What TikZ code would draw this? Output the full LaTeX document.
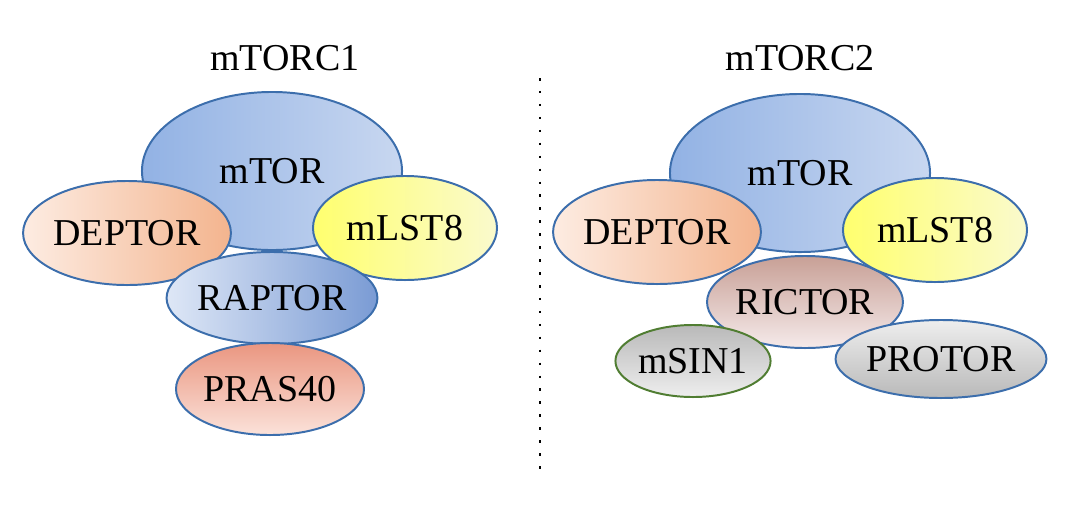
\documentclass[tikz,border=0pt]{standalone}
\usepackage{fontspec}
\setmainfont{Liberation Serif}
\usepackage{tikz}
\usetikzlibrary{shapes.geometric}
\definecolor{MTEdge}{RGB}{60,110,172}
\definecolor{MTLeft}{RGB}{146,178,228}
\definecolor{MTRight}{RGB}{200,215,240}
\definecolor{DPLeft}{RGB}{253,236,226}
\definecolor{DPRight}{RGB}{243,180,142}
\definecolor{LSLeft}{RGB}{255,255,110}
\definecolor{LSRight}{RGB}{250,250,205}
\definecolor{RPLeft}{RGB}{222,231,246}
\definecolor{RPRight}{RGB}{122,155,212}
\definecolor{PRTop}{RGB}{234,150,128}
\definecolor{PRBot}{RGB}{251,226,218}
\definecolor{RCTop}{RGB}{200,160,150}
\definecolor{RCBot}{RGB}{245,234,234}
\definecolor{SNEdge}{RGB}{80,125,50}
\definecolor{GrDark}{RGB}{185,185,185}
\definecolor{GrLight}{RGB}{238,238,238}

\begin{document}
\begin{tikzpicture}[
  x=0.025cm, y=-0.025cm,
  prot/.style={ellipse, draw=MTEdge, line width=1.4pt, inner sep=0pt, font=\fontsize{27}{29}\selectfont},
  core/.style={prot, minimum width=6.5cm, minimum height=3.95cm, left color=MTLeft, right color=MTRight},
  side/.style={prot, minimum width=4.6cm, minimum height=2.6cm},
  sub/.style={prot, minimum width=4.35cm, minimum height=2.3cm},
  title/.style={font=\fontsize{27}{29}\selectfont},
  sep/.style={line width=1.8pt, dash pattern=on 1.8pt off 7.4pt}
]
\useasboundingbox (0,0) rectangle (1080,509);

% mTORC1
\node[title] (t1) at (285,58) {mTORC1};
\node[core] (tor1) at (272,171) {mTOR};
\node[side, left color=DPLeft, right color=DPRight] (dep1) at (127,233) {DEPTOR};
\node[side, left color=LSLeft, right color=LSRight] (lst1) at (405,228) {mLST8};
\node[sub, left color=RPLeft, right color=RPRight] (rap) at (272,298) {RAPTOR};
\node[sub, top color=PRTop, bottom color=PRBot] (pras) at (270,389) {PRAS40};

% mTORC2
\node[title] (t2) at (800,58) {mTORC2};
\node[core] (tor2) at (800,173) {mTOR};
\node[sub, minimum width=4.4cm, top color=RCTop, bottom color=RCBot] (ric) at (805,302) {RICTOR};
\node[side, left color=DPLeft, right color=DPRight] (dep2) at (657,232) {DEPTOR};
\node[side, left color=LSLeft, right color=LSRight] (lst2) at (935,230) {mLST8};
\node[prot, draw=SNEdge, minimum width=3.6cm, minimum height=1.8cm, top color=GrDark, bottom color=GrLight] (sin) at (693,361) {mSIN1};
\node[prot, minimum width=4.3cm, minimum height=1.95cm, top color=GrLight, bottom color=GrDark] (pro) at (941,359) {PROTOR};

% divider
\coordinate (dtop) at (540,78);
\coordinate (dbot) at (540,472);
\draw[sep] (dtop) -- (dbot);
\end{tikzpicture}
\end{document}
